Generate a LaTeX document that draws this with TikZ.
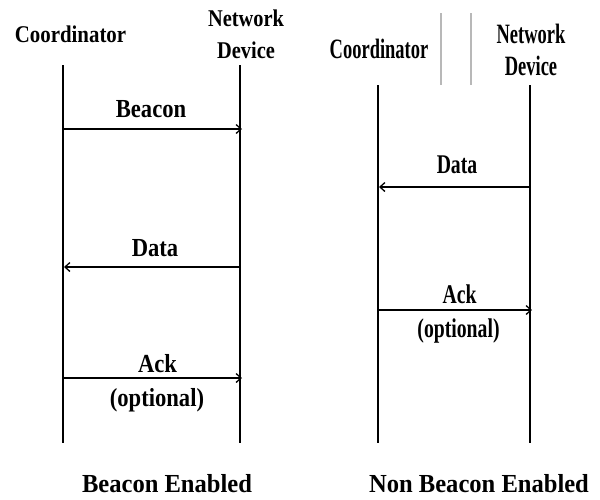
\documentclass[tikz,border=0pt]{standalone}
\usepackage{fontspec}
\setmainfont{Liberation Serif}
\usepackage{graphicx}
\usetikzlibrary{arrows.meta}
\newcommand{\sq}[2]{\scalebox{#1}[1]{#2}}
\begin{document}
\begin{tikzpicture}[x=1pt,y=-1pt,
  life/.style={line width=2.2pt},
  msg/.style={line width=1.5pt,-{Straight Barb[length=5pt,width=9pt,line width=1.3pt]}},
  sepline/.style={line width=1.2pt, draw=black!28},
  lab/.style={inner sep=0pt, anchor=base},
  hdrL/.style={inner sep=0pt, font=\bfseries\fontsize{24}{32}\selectfont, align=center},
  hdrR/.style={inner sep=0pt, font=\bfseries\fontsize{28}{32}\selectfont, align=center},
  msgL/.style={lab, font=\bfseries\fontsize{26}{26}\selectfont},
  msgR/.style={lab, font=\bfseries\fontsize{27}{27}\selectfont},
  capt/.style={lab, font=\bfseries\fontsize{26}{26}\selectfont}
]
\useasboundingbox (0,0) rectangle (600,499);

% ---------- Beacon enabled ----------
\node[lab, font=\bfseries\fontsize{24}{24}\selectfont] (coordL) at (70.5,42) {\sq{0.87}{Coordinator}};
\node[hdrL] (devL) at (246,34) {\sq{0.85}{Network}\\\sq{0.85}{Device}};

\coordinate (L1t) at (63,65);  \coordinate (L1b) at (63,443);
\coordinate (L2t) at (240,65); \coordinate (L2b) at (240,443);
\draw[life] (L1t) -- (L1b);
\draw[life] (L2t) -- (L2b);

\coordinate (bcS) at (63,129);  \coordinate (bcE) at (242,129);
\coordinate (dtS) at (240,267); \coordinate (dtE) at (64,267);
\coordinate (akS) at (63,378);  \coordinate (akE) at (242,378);
\draw[msg] (bcS) -- (bcE);
\draw[msg] (dtS) -- (dtE);
\draw[msg] (akS) -- (akE);

\node[msgL] (beacon) at (151,117) {\sq{0.87}{Beacon}};
\node[msgL] (dataL) at (155,256) {\sq{0.87}{Data}};
\node[msgL] (ackL) at (157.5,372) {\sq{0.87}{Ack}};
\node[msgL] (optL) at (157,406) {\sq{0.87}{(optional)}};

\node[capt] (capL) at (167,492) {\sq{0.945}{Beacon Enabled}};

% ---------- Non beacon enabled ----------
\coordinate (g1t) at (441,13); \coordinate (g1b) at (441,85);
\coordinate (g2t) at (471,13); \coordinate (g2b) at (471,85);
\draw[sepline] (g1t) -- (g1b);
\draw[sepline] (g2t) -- (g2b);

\node[lab, font=\bfseries\fontsize{28}{28}\selectfont] (coordR) at (379,58) {\sq{0.66}{Coordinator}};
\node[hdrR] (devR) at (531,50) {\sq{0.66}{Network}\\\sq{0.66}{Device}};

\coordinate (R1t) at (378,85);  \coordinate (R1b) at (378,443);
\coordinate (R2t) at (530,85);  \coordinate (R2b) at (530,443);
\draw[life] (R1t) -- (R1b);
\draw[life] (R2t) -- (R2b);

\coordinate (rdS) at (530,187); \coordinate (rdE) at (379,187);
\coordinate (raS) at (378,310); \coordinate (raE) at (532,310);
\draw[msg] (rdS) -- (rdE);
\draw[msg] (raS) -- (raE);

\node[msgR] (dataR) at (457,173) {\sq{0.73}{Data}};
\node[msgR] (ackR) at (459.5,303) {\sq{0.73}{Ack}};
\node[msgR] (optR) at (458.5,337) {\sq{0.73}{(optional)}};

\node[capt] (capR) at (479,492) {\sq{0.945}{Non Beacon Enabled}};
\end{tikzpicture}
\end{document}
